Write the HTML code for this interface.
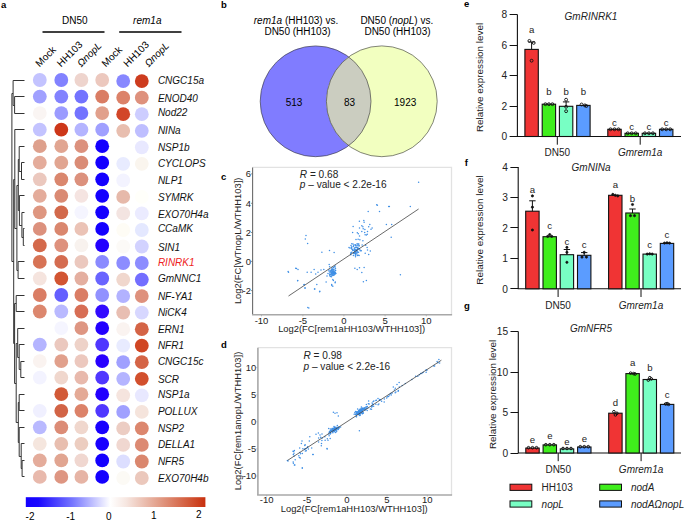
<!DOCTYPE html>
<html><head><meta charset="utf-8"><style>
html,body{margin:0;padding:0;background:#fff;}
svg{display:block;font-family:"Liberation Sans", sans-serif;}
</style></head><body>
<svg width="685" height="521" viewBox="0 0 685 521">
<rect width="685" height="521" fill="#fff"/>
<text x="1" y="8" font-size="9.5" font-weight="bold">a</text>
<text x="74.9" y="24" font-size="10" text-anchor="middle">DN50</text>
<text x="147.3" y="24" font-size="10" text-anchor="middle" font-style="italic">rem1a</text>
<line x1="42.5" y1="32" x2="104.5" y2="32" stroke="#000" stroke-width="1.5"/>
<line x1="119.2" y1="32" x2="181.5" y2="32" stroke="#000" stroke-width="1.5"/>
<text x="39.6" y="67.4" font-size="10" transform="rotate(-45 39.6 67.4)">Mock</text>
<text x="61.1" y="67.4" font-size="10" transform="rotate(-45 61.1 67.4)">HH103</text>
<text x="81.2" y="67.4" font-size="10" font-style="italic" transform="rotate(-45 81.2 67.4)">ΩnopL</text>
<text x="105.8" y="67.4" font-size="10" transform="rotate(-45 105.8 67.4)">Mock</text>
<text x="127.6" y="67.4" font-size="10" transform="rotate(-45 127.6 67.4)">HH103</text>
<text x="148.7" y="67.4" font-size="10" font-style="italic" transform="rotate(-45 148.7 67.4)">ΩnopL</text>
<circle cx="39.8" cy="80.0" r="6.9" fill="#C3C3FF"/>
<circle cx="61.3" cy="80.0" r="6.9" fill="#8282FF"/>
<circle cx="81.4" cy="80.0" r="6.9" fill="#EED4CD"/>
<circle cx="102.2" cy="80.0" r="6.9" fill="#ECC8BE"/>
<circle cx="123.2" cy="81.1" r="6.9" fill="#8787FF"/>
<circle cx="141.8" cy="81.1" r="6.9" fill="#CD3C1E"/>
<text x="157.9" y="84.0" font-size="10" font-style="italic" fill="#111">CNGC15a</text>
<circle cx="39.8" cy="96.6" r="6.9" fill="#A0A0FF"/>
<circle cx="61.3" cy="96.6" r="6.9" fill="#8282FF"/>
<circle cx="81.4" cy="96.6" r="6.9" fill="#7373FF"/>
<circle cx="102.2" cy="96.6" r="6.9" fill="#DA7D64"/>
<circle cx="123.2" cy="97.7" r="6.9" fill="#DC8269"/>
<circle cx="141.8" cy="97.7" r="6.9" fill="#DE917D"/>
<text x="157.9" y="101.6" font-size="10" font-style="italic" fill="#111">ENOD40</text>
<circle cx="39.8" cy="113.1" r="6.9" fill="#FAF5F3"/>
<circle cx="61.3" cy="113.1" r="6.9" fill="#9B9BFF"/>
<circle cx="81.4" cy="113.1" r="6.9" fill="#7373FF"/>
<circle cx="102.2" cy="113.1" r="6.9" fill="#E1A08C"/>
<circle cx="123.2" cy="114.2" r="6.9" fill="#D24628"/>
<circle cx="141.8" cy="114.2" r="6.9" fill="#CDCDFF"/>
<text x="157.9" y="116.4" font-size="10" font-style="italic" fill="#111">Nod22</text>
<circle cx="39.8" cy="129.7" r="6.9" fill="#C3C3FF"/>
<circle cx="61.3" cy="129.7" r="6.9" fill="#CD3719"/>
<circle cx="81.4" cy="129.7" r="6.9" fill="#B4B4FF"/>
<circle cx="102.2" cy="129.7" r="6.9" fill="#A0A0FF"/>
<circle cx="123.2" cy="130.8" r="6.9" fill="#E8BEAF"/>
<circle cx="141.8" cy="130.8" r="6.9" fill="#BEBEFF"/>
<text x="157.9" y="133.5" font-size="10" font-style="italic" fill="#111">NINa</text>
<circle cx="39.8" cy="146.2" r="6.9" fill="#DEA08C"/>
<circle cx="61.3" cy="146.2" r="6.9" fill="#E1A591"/>
<circle cx="81.4" cy="146.2" r="6.9" fill="#DC917D"/>
<circle cx="102.2" cy="146.2" r="6.9" fill="#1400FF"/>
<circle cx="141.8" cy="147.3" r="6.9" fill="#E8E8FF"/>
<text x="157.9" y="150.8" font-size="10" font-style="italic" fill="#111">NSP1b</text>
<circle cx="39.8" cy="162.7" r="6.9" fill="#E4AC9B"/>
<circle cx="61.3" cy="162.7" r="6.9" fill="#E1A591"/>
<circle cx="81.4" cy="162.7" r="6.9" fill="#DA8C76"/>
<circle cx="102.2" cy="162.7" r="6.9" fill="#1400FF"/>
<circle cx="123.2" cy="163.8" r="6.9" fill="#E8EBFF"/>
<circle cx="141.8" cy="163.8" r="6.9" fill="#FAF5EE"/>
<text x="157.9" y="167.1" font-size="10" font-style="italic" fill="#111">CYCLOPS</text>
<circle cx="39.8" cy="179.3" r="6.9" fill="#EBC8BE"/>
<circle cx="61.3" cy="179.3" r="6.9" fill="#DA876E"/>
<circle cx="81.4" cy="179.3" r="6.9" fill="#DC917D"/>
<circle cx="102.2" cy="179.3" r="6.9" fill="#1400FF"/>
<circle cx="123.2" cy="180.4" r="6.9" fill="#F3F3FF"/>
<text x="157.9" y="183.9" font-size="10" font-style="italic" fill="#111">NLP1</text>
<circle cx="39.8" cy="195.8" r="6.9" fill="#E4AC9B"/>
<circle cx="61.3" cy="195.8" r="6.9" fill="#DA8A73"/>
<circle cx="81.4" cy="195.8" r="6.9" fill="#F5E4E1"/>
<circle cx="102.2" cy="195.8" r="6.9" fill="#1400FF"/>
<circle cx="123.2" cy="196.9" r="6.9" fill="#E6B9AA"/>
<circle cx="141.8" cy="196.9" r="6.9" fill="#FFFFFA"/>
<text x="157.9" y="200.7" font-size="10" font-style="italic" fill="#111">SYMRK</text>
<circle cx="39.8" cy="212.3" r="6.9" fill="#DE9680"/>
<circle cx="61.3" cy="212.3" r="6.9" fill="#D2694B"/>
<circle cx="81.4" cy="212.3" r="6.9" fill="#F5F5FF"/>
<circle cx="102.2" cy="212.3" r="6.9" fill="#1400FF"/>
<circle cx="123.2" cy="213.4" r="6.9" fill="#F3E4E1"/>
<circle cx="141.8" cy="213.4" r="6.9" fill="#EBEBFF"/>
<text x="157.9" y="217.5" font-size="10" font-style="italic" fill="#111">EXO70H4a</text>
<circle cx="39.8" cy="228.9" r="6.9" fill="#DC917D"/>
<circle cx="61.3" cy="228.9" r="6.9" fill="#DA876E"/>
<circle cx="81.4" cy="228.9" r="6.9" fill="#EBC3B6"/>
<circle cx="102.2" cy="228.9" r="6.9" fill="#1400FF"/>
<circle cx="123.2" cy="230.0" r="6.9" fill="#FEFCF5"/>
<circle cx="141.8" cy="230.0" r="6.9" fill="#E4E8FF"/>
<text x="157.9" y="232.0" font-size="10" font-style="italic" fill="#111">CCaMK</text>
<circle cx="39.8" cy="245.4" r="6.9" fill="#D4694B"/>
<circle cx="61.3" cy="245.4" r="6.9" fill="#DE917D"/>
<circle cx="81.4" cy="245.4" r="6.9" fill="#F8F2EE"/>
<circle cx="102.2" cy="245.4" r="6.9" fill="#2300FF"/>
<circle cx="123.2" cy="246.5" r="6.9" fill="#FCFAF7"/>
<circle cx="141.8" cy="246.5" r="6.9" fill="#D2D2FF"/>
<text x="157.9" y="250.7" font-size="10" font-style="italic" fill="#111">SIN1</text>
<circle cx="39.8" cy="261.9" r="6.9" fill="#D77355"/>
<circle cx="61.3" cy="261.9" r="6.9" fill="#D46C50"/>
<circle cx="81.4" cy="261.9" r="6.9" fill="#EBC8BE"/>
<circle cx="102.2" cy="261.9" r="6.9" fill="#8A8AFF"/>
<circle cx="123.2" cy="263.0" r="6.9" fill="#8C8CFF"/>
<circle cx="141.8" cy="263.0" r="6.9" fill="#8C8CFF"/>
<text x="157.9" y="265.8" font-size="10" font-style="italic" fill="#EE2222">RINRK1</text>
<circle cx="39.8" cy="278.5" r="6.9" fill="#F5E4DE"/>
<circle cx="61.3" cy="278.5" r="6.9" fill="#D25532"/>
<circle cx="81.4" cy="278.5" r="6.9" fill="#E4AFA0"/>
<circle cx="102.2" cy="278.5" r="6.9" fill="#6964FF"/>
<circle cx="123.2" cy="279.6" r="6.9" fill="#F0D7CD"/>
<circle cx="141.8" cy="279.6" r="6.9" fill="#736EFF"/>
<text x="157.9" y="282.0" font-size="10" font-style="italic" fill="#111">GmNNC1</text>
<circle cx="39.8" cy="295.0" r="6.9" fill="#DA7D64"/>
<circle cx="61.3" cy="295.0" r="6.9" fill="#645FFF"/>
<circle cx="81.4" cy="295.0" r="6.9" fill="#DA7D64"/>
<circle cx="102.2" cy="295.0" r="6.9" fill="#9191FF"/>
<circle cx="123.2" cy="296.1" r="6.9" fill="#B2B2FF"/>
<circle cx="141.8" cy="296.1" r="6.9" fill="#DE917D"/>
<text x="157.9" y="300.0" font-size="10" font-style="italic" fill="#111">NF-YA1</text>
<circle cx="39.8" cy="311.5" r="6.9" fill="#DC876E"/>
<circle cx="61.3" cy="311.5" r="6.9" fill="#B9B9FF"/>
<circle cx="81.4" cy="311.5" r="6.9" fill="#D76E55"/>
<circle cx="102.2" cy="311.5" r="6.9" fill="#320AFF"/>
<circle cx="123.2" cy="312.6" r="6.9" fill="#E8BEB2"/>
<circle cx="141.8" cy="312.6" r="6.9" fill="#D7D7FF"/>
<text x="157.9" y="315.6" font-size="10" font-style="italic" fill="#111">NiCK4</text>
<circle cx="61.3" cy="328.1" r="6.9" fill="#F5F5FF"/>
<circle cx="81.4" cy="328.1" r="6.9" fill="#DE9682"/>
<circle cx="102.2" cy="328.1" r="6.9" fill="#2300FF"/>
<circle cx="123.2" cy="329.2" r="6.9" fill="#FAF3F0"/>
<circle cx="141.8" cy="329.2" r="6.9" fill="#D46446"/>
<text x="157.9" y="333.0" font-size="10" font-style="italic" fill="#111">ERN1</text>
<circle cx="39.8" cy="344.6" r="6.9" fill="#B4B4FF"/>
<circle cx="61.3" cy="344.6" r="6.9" fill="#EBC8BE"/>
<circle cx="81.4" cy="344.6" r="6.9" fill="#EED2C8"/>
<circle cx="102.2" cy="344.6" r="6.9" fill="#5037FF"/>
<circle cx="123.2" cy="345.7" r="6.9" fill="#E8EBFF"/>
<circle cx="141.8" cy="345.7" r="6.9" fill="#D04623"/>
<text x="157.9" y="349.3" font-size="10" font-style="italic" fill="#111">NFR1</text>
<circle cx="39.8" cy="361.1" r="6.9" fill="#FAF3F0"/>
<circle cx="61.3" cy="361.1" r="6.9" fill="#E1A08C"/>
<circle cx="81.4" cy="361.1" r="6.9" fill="#ECC8BE"/>
<circle cx="102.2" cy="361.1" r="6.9" fill="#2800FF"/>
<circle cx="123.2" cy="362.2" r="6.9" fill="#A0A0FF"/>
<circle cx="141.8" cy="362.2" r="6.9" fill="#D46446"/>
<text x="157.9" y="364.6" font-size="10" font-style="italic" fill="#111">CNGC15c</text>
<circle cx="39.8" cy="377.7" r="6.9" fill="#F3F3FF"/>
<circle cx="61.3" cy="377.7" r="6.9" fill="#F0D7CD"/>
<circle cx="81.4" cy="377.7" r="6.9" fill="#E8B9AC"/>
<circle cx="102.2" cy="377.7" r="6.9" fill="#5037FF"/>
<circle cx="123.2" cy="378.8" r="6.9" fill="#B4B4FF"/>
<circle cx="141.8" cy="378.8" r="6.9" fill="#D2502D"/>
<text x="157.9" y="382.5" font-size="10" font-style="italic" fill="#111">SCR</text>
<circle cx="61.3" cy="394.2" r="6.9" fill="#D25A37"/>
<circle cx="81.4" cy="394.2" r="6.9" fill="#E4AA96"/>
<circle cx="102.2" cy="394.2" r="6.9" fill="#2300FF"/>
<circle cx="123.2" cy="395.3" r="6.9" fill="#F5E4DE"/>
<circle cx="141.8" cy="395.3" r="6.9" fill="#E8E8FF"/>
<text x="157.9" y="398.0" font-size="10" font-style="italic" fill="#111">NSP1a</text>
<circle cx="39.8" cy="410.8" r="6.9" fill="#F0F0FF"/>
<circle cx="61.3" cy="410.8" r="6.9" fill="#D26446"/>
<circle cx="81.4" cy="410.8" r="6.9" fill="#DC8269"/>
<circle cx="102.2" cy="410.8" r="6.9" fill="#5037FF"/>
<circle cx="123.2" cy="411.9" r="6.9" fill="#A0A0FF"/>
<circle cx="141.8" cy="411.9" r="6.9" fill="#F5E4DC"/>
<text x="157.9" y="415.1" font-size="10" font-style="italic" fill="#111">POLLUX</text>
<circle cx="39.8" cy="427.3" r="6.9" fill="#B9B9FF"/>
<circle cx="61.3" cy="427.3" r="6.9" fill="#DC8C76"/>
<circle cx="81.4" cy="427.3" r="6.9" fill="#F0D7CD"/>
<circle cx="102.2" cy="427.3" r="6.9" fill="#1900FF"/>
<circle cx="123.2" cy="428.4" r="6.9" fill="#ECCDC3"/>
<circle cx="141.8" cy="428.4" r="6.9" fill="#DC876E"/>
<text x="157.9" y="431.6" font-size="10" font-style="italic" fill="#111">NSP2</text>
<circle cx="39.8" cy="443.8" r="6.9" fill="#F5E6DE"/>
<circle cx="61.3" cy="443.8" r="6.9" fill="#E8BEAF"/>
<circle cx="81.4" cy="443.8" r="6.9" fill="#ECCDC0"/>
<circle cx="102.2" cy="443.8" r="6.9" fill="#1900FF"/>
<circle cx="123.2" cy="444.9" r="6.9" fill="#F0D7D0"/>
<circle cx="141.8" cy="444.9" r="6.9" fill="#DC8A73"/>
<text x="157.9" y="448.3" font-size="10" font-style="italic" fill="#111">DELLA1</text>
<circle cx="39.8" cy="460.4" r="6.9" fill="#E4AC9B"/>
<circle cx="61.3" cy="460.4" r="6.9" fill="#E1A591"/>
<circle cx="81.4" cy="460.4" r="6.9" fill="#F0D7D0"/>
<circle cx="102.2" cy="460.4" r="6.9" fill="#1400FF"/>
<circle cx="123.2" cy="461.5" r="6.9" fill="#DCDEFF"/>
<circle cx="141.8" cy="461.5" r="6.9" fill="#DA876E"/>
<text x="157.9" y="464.7" font-size="10" font-style="italic" fill="#111">NFR5</text>
<circle cx="39.8" cy="476.9" r="6.9" fill="#E8B9AC"/>
<circle cx="61.3" cy="476.9" r="6.9" fill="#DE9682"/>
<circle cx="81.4" cy="476.9" r="6.9" fill="#E6B4A5"/>
<circle cx="102.2" cy="476.9" r="6.9" fill="#1400FF"/>
<circle cx="123.2" cy="478.0" r="6.9" fill="#FCFAF5"/>
<circle cx="141.8" cy="478.0" r="6.9" fill="#EBC8BC"/>
<text x="157.9" y="481.8" font-size="10" font-style="italic" fill="#111">EXO70H4b</text>
<path d="M14.6 96.5H24.5M14.6 113.5H24.5M14.6 96.5V113.5M13.1 80.5H24.5M13.1 105.5H14.6M13.1 80.5V105.5M21.5 162.5H24.5M21.5 179.5H24.5M21.5 162.5V179.5M19.2 146.5H24.5M19.2 171.5H21.5M19.2 146.5V171.5M23.3 228.5H24.5M23.3 245.5H24.5M23.3 228.5V245.5M21.9 212.5H24.5M21.9 237.5H23.3M21.9 212.5V237.5M19.4 195.5H24.5M19.4 225.5H21.9M19.4 195.5V225.5M18.3 159.5H19.2M18.3 210.5H19.4M18.3 159.5V210.5M18.1 261.5H24.5M18.1 278.5H24.5M18.1 261.5V278.5M16.9 185.5H18.3M16.9 270.5H18.1M16.9 185.5V270.5M14.8 129.5H24.5M14.8 228.5H16.9M14.8 129.5V228.5M16.2 295.5H24.5M16.2 311.5H24.5M16.2 295.5V311.5M20.8 361.5H24.5M20.8 377.5H24.5M20.8 361.5V377.5M19.2 344.5H24.5M19.2 369.5H20.8M19.2 344.5V369.5M17.7 328.5H24.5M17.7 357.5H19.2M17.7 328.5V357.5M19.2 394.5H24.5M19.2 410.5H24.5M19.2 394.5V410.5M22.1 460.5H24.5M22.1 476.5H24.5M22.1 460.5V476.5M21.2 443.5H24.5M21.2 468.5H22.1M21.2 443.5V468.5M19.2 427.5H24.5M19.2 456.5H21.2M19.2 427.5V456.5M18.3 402.5H19.2M18.3 442.5H19.2M18.3 402.5V442.5M16.2 343.5H17.7M16.2 422.5H18.3M16.2 343.5V422.5M14.6 303.5H16.2M14.6 383.5H16.2M14.6 303.5V383.5M13.7 179.5H14.8M13.7 343.5H14.6M13.7 179.5V343.5M11.9 93.5H13.1M11.9 261.5H13.7M11.9 93.5V261.5" fill="none" stroke="#333" stroke-width="1"/>
<defs><linearGradient id="cb" x1="0" x2="1" y1="0" y2="0"><stop offset="0" stop-color="#1400FF"/><stop offset="0.07" stop-color="#1A08FF"/><stop offset="0.26" stop-color="#7676FF"/><stop offset="0.47" stop-color="#FFFFFF"/><stop offset="0.56" stop-color="#F6E6E0"/><stop offset="0.75" stop-color="#E19A84"/><stop offset="0.9" stop-color="#D35C3C"/><stop offset="1" stop-color="#C8300E"/></linearGradient></defs>
<rect x="25.8" y="497.2" width="179.6" height="9.8" fill="url(#cb)"/>
<text x="30" y="519.5" font-size="10" text-anchor="middle">-2</text>
<text x="70.7" y="519.5" font-size="10" text-anchor="middle">-1</text>
<text x="108.8" y="519.5" font-size="10" text-anchor="middle">0</text>
<text x="153.8" y="518.8" font-size="10" text-anchor="middle">1</text>
<text x="198.8" y="517.6" font-size="10" text-anchor="middle">2</text>
<text x="221" y="8.2" font-size="9.5" font-weight="bold">b</text>
<text x="296" y="23.5" font-size="10" text-anchor="middle"><tspan font-style="italic">rem1a</tspan> (HH103) vs.</text>
<text x="297.5" y="35.3" font-size="10" text-anchor="middle">DN50 (HH103)</text>
<text x="396.8" y="23.5" font-size="10" text-anchor="middle">DN50 (<tspan font-style="italic">nopL</tspan>) vs.</text>
<text x="397.5" y="35.3" font-size="10" text-anchor="middle">DN50 (HH103)</text>
<defs><clipPath id="vl"><circle cx="315.6" cy="101.3" r="55.4"/></clipPath></defs>
<circle cx="315.6" cy="101.3" r="55.4" fill="#807CFF"/>
<circle cx="381.8" cy="101.3" r="55.4" fill="#F2FFC0"/>
<circle cx="381.8" cy="101.3" r="55.4" fill="#CBCDC0" clip-path="url(#vl)"/>
<circle cx="315.6" cy="101.3" r="55.4" fill="none" stroke="#333" stroke-width="0.6"/>
<circle cx="381.8" cy="101.3" r="55.4" fill="none" stroke="#333" stroke-width="0.6"/>
<text x="294.1" y="105.6" font-size="10" text-anchor="middle">513</text>
<text x="349.6" y="105.6" font-size="10" text-anchor="middle">83</text>
<text x="405.2" y="105.6" font-size="10" text-anchor="middle">1923</text>
<text x="221" y="180" font-size="9.5" font-weight="bold">c</text>
<path d="M252.6 167.4H451.5V314.8" fill="none" stroke="#E2E2E2" stroke-width="1.3"/>
<g fill="#3F8FE5"><circle cx="306.0" cy="235.6" r="0.75"/><circle cx="305.3" cy="239.1" r="0.75"/><circle cx="307.6" cy="243.4" r="0.75"/><circle cx="321.9" cy="252.2" r="0.75"/><circle cx="329.5" cy="250.6" r="0.75"/><circle cx="334.1" cy="252.4" r="0.75"/><circle cx="288.5" cy="272.2" r="0.75"/><circle cx="295.7" cy="268.3" r="0.75"/><circle cx="298.0" cy="269.5" r="0.75"/><circle cx="307.2" cy="272.2" r="0.75"/><circle cx="311.1" cy="272.2" r="0.75"/><circle cx="314.1" cy="269.5" r="0.75"/><circle cx="315.7" cy="274.1" r="0.75"/><circle cx="318.0" cy="272.2" r="0.75"/><circle cx="321.0" cy="269.9" r="0.75"/><circle cx="323.8" cy="269.5" r="0.75"/><circle cx="297.7" cy="280.5" r="0.75"/><circle cx="304.2" cy="284.4" r="0.75"/><circle cx="304.9" cy="287.9" r="0.75"/><circle cx="314.5" cy="289.0" r="0.75"/><circle cx="319.8" cy="291.3" r="0.75"/><circle cx="316.8" cy="284.4" r="0.75"/><circle cx="326.1" cy="282.1" r="0.75"/><circle cx="331.8" cy="285.6" r="0.75"/><circle cx="335.3" cy="282.1" r="0.75"/><circle cx="308.8" cy="307.9" r="0.75"/><circle cx="354.9" cy="268.3" r="0.75"/><circle cx="357.2" cy="269.5" r="0.75"/><circle cx="359.5" cy="267.8" r="0.75"/><circle cx="361.8" cy="272.5" r="0.75"/><circle cx="364.1" cy="267.4" r="0.75"/><circle cx="363.4" cy="281.7" r="0.75"/><circle cx="366.4" cy="280.5" r="0.75"/><circle cx="356.0" cy="239.5" r="0.75"/><circle cx="359.5" cy="236.1" r="0.75"/><circle cx="361.8" cy="231.5" r="0.75"/><circle cx="362.9" cy="226.8" r="0.75"/><circle cx="364.1" cy="222.2" r="0.75"/><circle cx="367.5" cy="231.5" r="0.75"/><circle cx="368.7" cy="226.8" r="0.75"/><circle cx="371.0" cy="229.2" r="0.75"/><circle cx="369.8" cy="224.5" r="0.75"/><circle cx="372.1" cy="228.0" r="0.75"/><circle cx="366.4" cy="234.9" r="0.75"/><circle cx="359.5" cy="228.0" r="0.75"/><circle cx="361.8" cy="225.7" r="0.75"/><circle cx="358.3" cy="233.8" r="0.75"/><circle cx="368.2" cy="211.4" r="0.75"/><circle cx="377.4" cy="205.2" r="0.75"/><circle cx="379.5" cy="211.4" r="0.75"/><circle cx="389.4" cy="206.6" r="0.75"/><circle cx="386.4" cy="224.5" r="0.75"/><circle cx="391.7" cy="224.5" r="0.75"/><circle cx="391.2" cy="237.2" r="0.75"/><circle cx="362.9" cy="240.7" r="0.75"/><circle cx="365.7" cy="245.3" r="0.75"/><circle cx="367.5" cy="249.9" r="0.75"/><circle cx="370.3" cy="251.0" r="0.75"/><circle cx="365.2" cy="253.3" r="0.75"/><circle cx="368.7" cy="254.5" r="0.75"/><circle cx="367.1" cy="247.6" r="0.75"/><circle cx="353.7" cy="245.3" r="0.75"/><circle cx="353.2" cy="250.3" r="0.75"/><circle cx="351.9" cy="252.2" r="0.75"/><circle cx="355.5" cy="256.8" r="0.75"/><circle cx="358.8" cy="244.1" r="0.75"/><circle cx="418.6" cy="182.2" r="0.75"/><circle cx="400.4" cy="274.7" r="0.75"/><circle cx="288.1" cy="271.4" r="0.75"/><circle cx="296.5" cy="268.5" r="0.75"/><circle cx="307.8" cy="307.5" r="0.75"/><circle cx="304.0" cy="284.8" r="0.75"/><circle cx="305.2" cy="288.0" r="0.75"/><circle cx="314.8" cy="289.0" r="0.75"/><circle cx="319.6" cy="291.7" r="0.75"/><circle cx="297.6" cy="280.8" r="0.75"/><circle cx="376.7" cy="204.7" r="0.75"/><circle cx="388.7" cy="206.5" r="0.75"/><circle cx="410.3" cy="206.4" r="0.75"/><circle cx="332.3" cy="273.3" r="0.75"/><circle cx="332.4" cy="270.9" r="0.75"/><circle cx="331.0" cy="271.2" r="0.75"/><circle cx="334.9" cy="273.0" r="0.75"/><circle cx="334.8" cy="272.5" r="0.75"/><circle cx="333.6" cy="272.3" r="0.75"/><circle cx="329.6" cy="274.3" r="0.75"/><circle cx="333.8" cy="273.2" r="0.75"/><circle cx="329.6" cy="266.7" r="0.75"/><circle cx="331.1" cy="270.4" r="0.75"/><circle cx="333.4" cy="271.7" r="0.75"/><circle cx="333.8" cy="269.9" r="0.75"/><circle cx="333.4" cy="272.9" r="0.75"/><circle cx="331.5" cy="276.8" r="0.75"/><circle cx="333.9" cy="275.3" r="0.75"/><circle cx="331.6" cy="269.7" r="0.75"/><circle cx="332.1" cy="271.5" r="0.75"/><circle cx="334.0" cy="272.5" r="0.75"/><circle cx="332.0" cy="269.0" r="0.75"/><circle cx="331.8" cy="275.3" r="0.75"/><circle cx="331.3" cy="272.5" r="0.75"/><circle cx="333.6" cy="267.5" r="0.75"/><circle cx="332.9" cy="275.6" r="0.75"/><circle cx="329.0" cy="270.9" r="0.75"/><circle cx="332.6" cy="269.4" r="0.75"/><circle cx="333.7" cy="271.6" r="0.75"/><circle cx="330.0" cy="274.2" r="0.75"/><circle cx="334.1" cy="274.5" r="0.75"/><circle cx="335.5" cy="272.9" r="0.75"/><circle cx="333.0" cy="268.0" r="0.75"/><circle cx="334.0" cy="270.0" r="0.75"/><circle cx="331.9" cy="268.1" r="0.75"/><circle cx="331.0" cy="270.3" r="0.75"/><circle cx="335.2" cy="265.9" r="0.75"/><circle cx="330.0" cy="272.5" r="0.75"/><circle cx="335.5" cy="273.5" r="0.75"/><circle cx="329.2" cy="264.5" r="0.75"/><circle cx="333.5" cy="269.7" r="0.75"/><circle cx="330.7" cy="274.6" r="0.75"/><circle cx="334.9" cy="272.3" r="0.75"/><circle cx="333.3" cy="273.1" r="0.75"/><circle cx="335.8" cy="273.6" r="0.75"/><circle cx="333.8" cy="273.4" r="0.75"/><circle cx="329.8" cy="275.5" r="0.75"/><circle cx="334.6" cy="273.3" r="0.75"/><circle cx="329.0" cy="270.0" r="0.75"/><circle cx="334.4" cy="266.5" r="0.75"/><circle cx="332.5" cy="274.8" r="0.75"/><circle cx="330.3" cy="276.5" r="0.75"/><circle cx="333.8" cy="271.4" r="0.75"/><circle cx="333.4" cy="273.7" r="0.75"/><circle cx="333.0" cy="275.1" r="0.75"/><circle cx="331.5" cy="270.6" r="0.75"/><circle cx="334.8" cy="271.9" r="0.75"/><circle cx="331.1" cy="274.5" r="0.75"/><circle cx="335.6" cy="270.5" r="0.75"/><circle cx="330.2" cy="271.4" r="0.75"/><circle cx="332.5" cy="270.9" r="0.75"/><circle cx="335.5" cy="268.8" r="0.75"/><circle cx="335.2" cy="268.1" r="0.75"/><circle cx="331.3" cy="273.6" r="0.75"/><circle cx="334.9" cy="274.3" r="0.75"/><circle cx="333.5" cy="272.2" r="0.75"/><circle cx="333.1" cy="273.5" r="0.75"/><circle cx="332.5" cy="272.6" r="0.75"/><circle cx="332.8" cy="279.4" r="0.75"/><circle cx="333.4" cy="280.5" r="0.75"/><circle cx="335.1" cy="282.8" r="0.75"/><circle cx="331.7" cy="284.6" r="0.75"/><circle cx="332.8" cy="286.3" r="0.75"/><circle cx="327.0" cy="276.0" r="0.75"/><circle cx="328.0" cy="273.5" r="0.75"/><circle cx="356.9" cy="249.5" r="0.75"/><circle cx="357.3" cy="251.7" r="0.75"/><circle cx="360.3" cy="250.7" r="0.75"/><circle cx="354.5" cy="248.1" r="0.75"/><circle cx="355.5" cy="253.0" r="0.75"/><circle cx="354.7" cy="251.0" r="0.75"/><circle cx="359.9" cy="239.8" r="0.75"/><circle cx="352.8" cy="250.4" r="0.75"/><circle cx="356.5" cy="250.4" r="0.75"/><circle cx="354.5" cy="252.0" r="0.75"/><circle cx="356.2" cy="247.5" r="0.75"/><circle cx="361.3" cy="250.8" r="0.75"/><circle cx="354.2" cy="249.1" r="0.75"/><circle cx="355.0" cy="249.3" r="0.75"/><circle cx="349.0" cy="247.6" r="0.75"/><circle cx="357.9" cy="245.1" r="0.75"/><circle cx="355.3" cy="253.1" r="0.75"/><circle cx="357.6" cy="255.2" r="0.75"/><circle cx="351.4" cy="248.2" r="0.75"/><circle cx="354.7" cy="251.9" r="0.75"/><circle cx="358.1" cy="239.3" r="0.75"/><circle cx="358.1" cy="244.0" r="0.75"/><circle cx="357.1" cy="243.8" r="0.75"/><circle cx="355.9" cy="254.0" r="0.75"/><circle cx="355.1" cy="250.2" r="0.75"/><circle cx="357.4" cy="250.0" r="0.75"/><circle cx="355.3" cy="255.3" r="0.75"/><circle cx="358.0" cy="248.4" r="0.75"/><circle cx="362.1" cy="245.1" r="0.75"/><circle cx="357.7" cy="248.5" r="0.75"/><circle cx="355.8" cy="252.2" r="0.75"/><circle cx="356.0" cy="251.9" r="0.75"/><circle cx="351.8" cy="243.8" r="0.75"/><circle cx="357.0" cy="245.8" r="0.75"/><circle cx="353.0" cy="243.9" r="0.75"/><circle cx="358.5" cy="252.3" r="0.75"/><circle cx="359.0" cy="245.9" r="0.75"/><circle cx="355.5" cy="245.2" r="0.75"/><circle cx="357.3" cy="255.5" r="0.75"/><circle cx="353.4" cy="255.4" r="0.75"/><circle cx="357.9" cy="248.8" r="0.75"/><circle cx="350.8" cy="254.8" r="0.75"/><circle cx="355.3" cy="247.2" r="0.75"/><circle cx="356.5" cy="251.1" r="0.75"/><circle cx="359.1" cy="245.6" r="0.75"/><circle cx="358.2" cy="255.2" r="0.75"/><circle cx="359.0" cy="248.8" r="0.75"/><circle cx="353.7" cy="253.4" r="0.75"/><circle cx="355.8" cy="250.0" r="0.75"/><circle cx="358.9" cy="248.5" r="0.75"/><circle cx="350.0" cy="248.0" r="0.75"/><circle cx="351.1" cy="252.6" r="0.75"/><circle cx="356.3" cy="247.2" r="0.75"/><circle cx="355.5" cy="252.7" r="0.75"/><circle cx="355.7" cy="254.5" r="0.75"/><circle cx="355.4" cy="253.5" r="0.75"/><circle cx="359.1" cy="255.6" r="0.75"/><circle cx="353.9" cy="252.8" r="0.75"/><circle cx="351.0" cy="245.4" r="0.75"/><circle cx="350.8" cy="253.6" r="0.75"/><circle cx="352.5" cy="249.5" r="0.75"/><circle cx="355.0" cy="249.4" r="0.75"/><circle cx="354.1" cy="250.4" r="0.75"/><circle cx="359.8" cy="249.7" r="0.75"/><circle cx="356.8" cy="253.3" r="0.75"/><circle cx="355.0" cy="244.7" r="0.75"/><circle cx="354.2" cy="253.6" r="0.75"/><circle cx="351.5" cy="247.2" r="0.75"/><circle cx="357.9" cy="252.5" r="0.75"/><circle cx="355.5" cy="252.6" r="0.75"/><circle cx="355.9" cy="245.0" r="0.75"/><circle cx="351.7" cy="247.1" r="0.75"/><circle cx="357.7" cy="247.4" r="0.75"/><circle cx="353.3" cy="246.6" r="0.75"/><circle cx="351.8" cy="249.1" r="0.75"/><circle cx="357.3" cy="232.8" r="0.75"/><circle cx="352.6" cy="232.6" r="0.75"/><circle cx="359.4" cy="221.3" r="0.75"/><circle cx="364.9" cy="229.6" r="0.75"/><circle cx="353.1" cy="226.6" r="0.75"/><circle cx="363.2" cy="228.7" r="0.75"/><circle cx="365.1" cy="234.7" r="0.75"/><circle cx="364.7" cy="232.6" r="0.75"/><circle cx="367.3" cy="234.3" r="0.75"/><circle cx="363.8" cy="220.6" r="0.75"/></g>
<line x1="288.5" y1="296.0" x2="418.6" y2="209.0" stroke="#444" stroke-width="0.8"/>
<path d="M252.6 167.4V314.8" fill="none" stroke="#6A6A6A" stroke-width="1.1"/>
<path d="M252.04999999999998 314.8H452.1" fill="none" stroke="#A8A8A8" stroke-width="1.5"/>
<line x1="251.1" y1="173.9" x2="252.6" y2="173.9" stroke="#6A6A6A" stroke-width="0.8"/>
<text x="250.9" y="177.3" font-size="9.4" text-anchor="end" fill="#222">6</text>
<line x1="251.1" y1="203.3" x2="252.6" y2="203.3" stroke="#6A6A6A" stroke-width="0.8"/>
<text x="250.9" y="206.7" font-size="9.4" text-anchor="end" fill="#222">4</text>
<line x1="251.1" y1="232.5" x2="252.6" y2="232.5" stroke="#6A6A6A" stroke-width="0.8"/>
<text x="250.9" y="235.9" font-size="9.4" text-anchor="end" fill="#222">2</text>
<line x1="251.1" y1="261.4" x2="252.6" y2="261.4" stroke="#6A6A6A" stroke-width="0.8"/>
<text x="250.9" y="264.8" font-size="9.4" text-anchor="end" fill="#222">0</text>
<line x1="251.1" y1="290.6" x2="252.6" y2="290.6" stroke="#6A6A6A" stroke-width="0.8"/>
<text x="250.9" y="294.0" font-size="9.4" text-anchor="end" fill="#222">-2</text>
<line x1="261.5" y1="314.8" x2="261.5" y2="316.3" stroke="#A8A8A8" stroke-width="0.8"/>
<text x="261.5" y="323.6" font-size="9.5" text-anchor="middle" fill="#222">-10</text>
<line x1="302.9" y1="314.8" x2="302.9" y2="316.3" stroke="#A8A8A8" stroke-width="0.8"/>
<text x="302.9" y="323.6" font-size="9.5" text-anchor="middle" fill="#222">-5</text>
<line x1="343.9" y1="314.8" x2="343.9" y2="316.3" stroke="#A8A8A8" stroke-width="0.8"/>
<text x="343.9" y="323.6" font-size="9.5" text-anchor="middle" fill="#222">0</text>
<line x1="385.1" y1="314.8" x2="385.1" y2="316.3" stroke="#A8A8A8" stroke-width="0.8"/>
<text x="385.1" y="323.6" font-size="9.5" text-anchor="middle" fill="#222">5</text>
<line x1="426.3" y1="314.8" x2="426.3" y2="316.3" stroke="#A8A8A8" stroke-width="0.8"/>
<text x="426.3" y="323.6" font-size="9.5" text-anchor="middle" fill="#222">10</text>
<text x="351.6" y="332.3" font-size="9.4" text-anchor="middle" fill="#222">Log2(FC[rem1aHH103/WTHH103])</text>
<text x="241.0" y="240.8" font-size="9.4" text-anchor="middle" fill="#222" transform="rotate(-90 241.0 240.8)">Log2(FC[WTnopL/WTHH103])</text>
<text x="299.8" y="177.5" font-size="10.1" fill="#222"><tspan font-style="italic">R</tspan> = 0.68</text>
<text x="299.8" y="188.1" font-size="10.1" fill="#222"><tspan font-style="italic">p</tspan> – value &lt; 2.2e-16</text>
<text x="221" y="348.2" font-size="9.5" font-weight="bold">d</text>
<path d="M257.9 347.7H451.5V494.9" fill="none" stroke="#E2E2E2" stroke-width="1.3"/>
<g fill="#3F8FE5"><circle cx="336.9" cy="429.7" r="0.75"/><circle cx="333.3" cy="429.8" r="0.75"/><circle cx="337.3" cy="425.4" r="0.75"/><circle cx="336.7" cy="431.3" r="0.75"/><circle cx="332.6" cy="431.8" r="0.75"/><circle cx="338.2" cy="427.0" r="0.75"/><circle cx="336.0" cy="429.8" r="0.75"/><circle cx="332.2" cy="431.0" r="0.75"/><circle cx="335.3" cy="430.1" r="0.75"/><circle cx="334.0" cy="429.7" r="0.75"/><circle cx="331.8" cy="430.9" r="0.75"/><circle cx="336.2" cy="428.6" r="0.75"/><circle cx="331.8" cy="430.3" r="0.75"/><circle cx="340.6" cy="427.0" r="0.75"/><circle cx="334.0" cy="426.5" r="0.75"/><circle cx="335.8" cy="429.4" r="0.75"/><circle cx="338.1" cy="427.8" r="0.75"/><circle cx="334.4" cy="430.4" r="0.75"/><circle cx="330.6" cy="433.5" r="0.75"/><circle cx="334.5" cy="428.7" r="0.75"/><circle cx="338.2" cy="429.6" r="0.75"/><circle cx="330.8" cy="431.2" r="0.75"/><circle cx="334.9" cy="429.6" r="0.75"/><circle cx="332.8" cy="429.5" r="0.75"/><circle cx="339.4" cy="427.7" r="0.75"/><circle cx="330.8" cy="430.3" r="0.75"/><circle cx="338.5" cy="428.3" r="0.75"/><circle cx="338.6" cy="427.9" r="0.75"/><circle cx="332.5" cy="431.3" r="0.75"/><circle cx="329.1" cy="432.2" r="0.75"/><circle cx="334.4" cy="430.4" r="0.75"/><circle cx="332.6" cy="430.7" r="0.75"/><circle cx="335.4" cy="429.5" r="0.75"/><circle cx="335.7" cy="429.1" r="0.75"/><circle cx="334.0" cy="431.0" r="0.75"/><circle cx="333.8" cy="429.0" r="0.75"/><circle cx="332.8" cy="430.7" r="0.75"/><circle cx="334.1" cy="430.1" r="0.75"/><circle cx="334.3" cy="430.0" r="0.75"/><circle cx="333.1" cy="428.8" r="0.75"/><circle cx="335.7" cy="430.2" r="0.75"/><circle cx="335.0" cy="429.0" r="0.75"/><circle cx="334.6" cy="428.3" r="0.75"/><circle cx="330.1" cy="432.6" r="0.75"/><circle cx="332.6" cy="431.8" r="0.75"/><circle cx="330.3" cy="429.0" r="0.75"/><circle cx="332.9" cy="432.7" r="0.75"/><circle cx="332.5" cy="429.1" r="0.75"/><circle cx="332.9" cy="431.4" r="0.75"/><circle cx="335.4" cy="429.3" r="0.75"/><circle cx="337.8" cy="428.3" r="0.75"/><circle cx="334.5" cy="430.4" r="0.75"/><circle cx="338.4" cy="428.3" r="0.75"/><circle cx="335.8" cy="427.3" r="0.75"/><circle cx="334.3" cy="430.7" r="0.75"/><circle cx="334.2" cy="431.2" r="0.75"/><circle cx="336.0" cy="429.8" r="0.75"/><circle cx="335.3" cy="432.4" r="0.75"/><circle cx="336.7" cy="427.8" r="0.75"/><circle cx="336.0" cy="432.0" r="0.75"/><circle cx="334.0" cy="431.1" r="0.75"/><circle cx="336.3" cy="428.4" r="0.75"/><circle cx="331.8" cy="431.6" r="0.75"/><circle cx="335.7" cy="430.3" r="0.75"/><circle cx="335.9" cy="428.7" r="0.75"/><circle cx="336.4" cy="429.1" r="0.75"/><circle cx="334.7" cy="429.6" r="0.75"/><circle cx="334.1" cy="430.8" r="0.75"/><circle cx="331.5" cy="430.7" r="0.75"/><circle cx="333.3" cy="428.5" r="0.75"/><circle cx="332.0" cy="428.6" r="0.75"/><circle cx="333.1" cy="431.3" r="0.75"/><circle cx="335.4" cy="428.9" r="0.75"/><circle cx="332.8" cy="428.8" r="0.75"/><circle cx="338.5" cy="427.7" r="0.75"/><circle cx="336.0" cy="427.4" r="0.75"/><circle cx="332.7" cy="428.4" r="0.75"/><circle cx="336.5" cy="429.5" r="0.75"/><circle cx="330.1" cy="432.5" r="0.75"/><circle cx="334.5" cy="427.3" r="0.75"/><circle cx="329.6" cy="431.4" r="0.75"/><circle cx="332.0" cy="429.4" r="0.75"/><circle cx="334.4" cy="430.0" r="0.75"/><circle cx="336.0" cy="429.5" r="0.75"/><circle cx="338.1" cy="428.7" r="0.75"/><circle cx="331.1" cy="431.2" r="0.75"/><circle cx="331.3" cy="430.3" r="0.75"/><circle cx="334.0" cy="429.9" r="0.75"/><circle cx="334.3" cy="427.6" r="0.75"/><circle cx="331.5" cy="431.5" r="0.75"/><circle cx="359.3" cy="411.7" r="0.75"/><circle cx="359.3" cy="411.0" r="0.75"/><circle cx="362.2" cy="410.8" r="0.75"/><circle cx="359.3" cy="411.1" r="0.75"/><circle cx="357.6" cy="409.1" r="0.75"/><circle cx="357.4" cy="413.5" r="0.75"/><circle cx="356.1" cy="414.6" r="0.75"/><circle cx="359.5" cy="410.0" r="0.75"/><circle cx="359.1" cy="411.8" r="0.75"/><circle cx="361.7" cy="411.5" r="0.75"/><circle cx="359.3" cy="410.9" r="0.75"/><circle cx="359.6" cy="411.9" r="0.75"/><circle cx="362.3" cy="410.7" r="0.75"/><circle cx="357.1" cy="411.6" r="0.75"/><circle cx="358.5" cy="411.6" r="0.75"/><circle cx="356.9" cy="413.6" r="0.75"/><circle cx="358.8" cy="412.7" r="0.75"/><circle cx="361.2" cy="410.3" r="0.75"/><circle cx="366.2" cy="407.1" r="0.75"/><circle cx="363.1" cy="409.8" r="0.75"/><circle cx="361.4" cy="407.1" r="0.75"/><circle cx="358.2" cy="413.3" r="0.75"/><circle cx="363.4" cy="413.1" r="0.75"/><circle cx="361.8" cy="412.5" r="0.75"/><circle cx="362.8" cy="411.3" r="0.75"/><circle cx="361.3" cy="410.6" r="0.75"/><circle cx="360.7" cy="409.6" r="0.75"/><circle cx="362.5" cy="408.5" r="0.75"/><circle cx="362.2" cy="413.5" r="0.75"/><circle cx="359.4" cy="412.1" r="0.75"/><circle cx="363.2" cy="409.6" r="0.75"/><circle cx="358.0" cy="413.4" r="0.75"/><circle cx="362.1" cy="411.4" r="0.75"/><circle cx="359.2" cy="415.0" r="0.75"/><circle cx="364.6" cy="408.7" r="0.75"/><circle cx="360.5" cy="410.8" r="0.75"/><circle cx="363.4" cy="408.4" r="0.75"/><circle cx="361.5" cy="410.0" r="0.75"/><circle cx="358.7" cy="413.7" r="0.75"/><circle cx="363.7" cy="409.3" r="0.75"/><circle cx="358.8" cy="413.8" r="0.75"/><circle cx="360.1" cy="412.1" r="0.75"/><circle cx="365.0" cy="410.2" r="0.75"/><circle cx="360.2" cy="415.1" r="0.75"/><circle cx="360.6" cy="412.5" r="0.75"/><circle cx="358.2" cy="412.8" r="0.75"/><circle cx="356.5" cy="416.8" r="0.75"/><circle cx="362.9" cy="407.9" r="0.75"/><circle cx="354.8" cy="412.7" r="0.75"/><circle cx="362.9" cy="409.1" r="0.75"/><circle cx="359.7" cy="411.5" r="0.75"/><circle cx="358.9" cy="410.7" r="0.75"/><circle cx="359.1" cy="410.1" r="0.75"/><circle cx="360.1" cy="412.2" r="0.75"/><circle cx="361.2" cy="410.6" r="0.75"/><circle cx="357.7" cy="413.5" r="0.75"/><circle cx="359.8" cy="414.3" r="0.75"/><circle cx="362.1" cy="410.2" r="0.75"/><circle cx="358.2" cy="411.8" r="0.75"/><circle cx="357.2" cy="413.0" r="0.75"/><circle cx="361.2" cy="411.7" r="0.75"/><circle cx="363.1" cy="412.9" r="0.75"/><circle cx="358.1" cy="413.0" r="0.75"/><circle cx="366.4" cy="404.6" r="0.75"/><circle cx="358.7" cy="412.8" r="0.75"/><circle cx="360.8" cy="411.9" r="0.75"/><circle cx="359.6" cy="412.5" r="0.75"/><circle cx="360.7" cy="412.4" r="0.75"/><circle cx="354.2" cy="414.2" r="0.75"/><circle cx="359.3" cy="410.6" r="0.75"/><circle cx="357.6" cy="414.3" r="0.75"/><circle cx="358.7" cy="413.6" r="0.75"/><circle cx="362.3" cy="410.7" r="0.75"/><circle cx="361.4" cy="410.7" r="0.75"/><circle cx="356.2" cy="414.2" r="0.75"/><circle cx="360.9" cy="410.3" r="0.75"/><circle cx="360.3" cy="412.7" r="0.75"/><circle cx="358.1" cy="414.0" r="0.75"/><circle cx="364.7" cy="407.7" r="0.75"/><circle cx="360.3" cy="411.3" r="0.75"/><circle cx="364.5" cy="409.2" r="0.75"/><circle cx="362.0" cy="409.3" r="0.75"/><circle cx="360.0" cy="411.7" r="0.75"/><circle cx="356.2" cy="416.5" r="0.75"/><circle cx="361.3" cy="408.2" r="0.75"/><circle cx="362.0" cy="410.2" r="0.75"/><circle cx="361.5" cy="411.3" r="0.75"/><circle cx="355.8" cy="414.2" r="0.75"/><circle cx="363.7" cy="408.4" r="0.75"/><circle cx="356.3" cy="412.1" r="0.75"/><circle cx="356.9" cy="414.3" r="0.75"/><circle cx="365.0" cy="409.1" r="0.75"/><circle cx="362.3" cy="413.7" r="0.75"/><circle cx="358.1" cy="411.9" r="0.75"/><circle cx="361.9" cy="411.3" r="0.75"/><circle cx="356.4" cy="412.3" r="0.75"/><circle cx="361.0" cy="411.4" r="0.75"/><circle cx="356.3" cy="413.9" r="0.75"/><circle cx="358.9" cy="413.2" r="0.75"/><circle cx="359.7" cy="411.8" r="0.75"/><circle cx="359.8" cy="413.5" r="0.75"/><circle cx="363.6" cy="408.8" r="0.75"/><circle cx="361.8" cy="409.4" r="0.75"/><circle cx="360.8" cy="412.4" r="0.75"/><circle cx="363.9" cy="408.5" r="0.75"/><circle cx="360.0" cy="412.1" r="0.75"/><circle cx="355.9" cy="414.4" r="0.75"/><circle cx="358.5" cy="413.3" r="0.75"/><circle cx="355.5" cy="411.6" r="0.75"/><circle cx="360.3" cy="411.9" r="0.75"/><circle cx="359.2" cy="413.7" r="0.75"/><circle cx="358.9" cy="411.5" r="0.75"/><circle cx="360.2" cy="409.1" r="0.75"/><circle cx="358.2" cy="412.9" r="0.75"/><circle cx="362.2" cy="410.0" r="0.75"/><circle cx="360.4" cy="410.4" r="0.75"/><circle cx="362.1" cy="413.0" r="0.75"/><circle cx="359.9" cy="415.5" r="0.75"/><circle cx="358.3" cy="412.9" r="0.75"/><circle cx="361.2" cy="412.5" r="0.75"/><circle cx="318.6" cy="441.9" r="0.75"/><circle cx="307.7" cy="446.7" r="0.75"/><circle cx="300.5" cy="453.7" r="0.75"/><circle cx="294.1" cy="455.9" r="0.75"/><circle cx="294.4" cy="450.6" r="0.75"/><circle cx="327.3" cy="438.8" r="0.75"/><circle cx="321.3" cy="445.8" r="0.75"/><circle cx="305.2" cy="448.8" r="0.75"/><circle cx="299.4" cy="457.6" r="0.75"/><circle cx="293.3" cy="454.6" r="0.75"/><circle cx="318.6" cy="438.0" r="0.75"/><circle cx="305.3" cy="451.0" r="0.75"/><circle cx="298.8" cy="455.7" r="0.75"/><circle cx="306.1" cy="448.4" r="0.75"/><circle cx="330.2" cy="438.5" r="0.75"/><circle cx="300.3" cy="457.9" r="0.75"/><circle cx="306.3" cy="450.8" r="0.75"/><circle cx="309.3" cy="440.9" r="0.75"/><circle cx="294.0" cy="453.2" r="0.75"/><circle cx="328.8" cy="434.1" r="0.75"/><circle cx="299.7" cy="448.0" r="0.75"/><circle cx="293.2" cy="461.9" r="0.75"/><circle cx="308.4" cy="448.9" r="0.75"/><circle cx="293.6" cy="451.4" r="0.75"/><circle cx="293.4" cy="463.3" r="0.75"/><circle cx="302.3" cy="453.6" r="0.75"/><circle cx="321.9" cy="440.4" r="0.75"/><circle cx="302.9" cy="448.7" r="0.75"/><circle cx="330.3" cy="430.7" r="0.75"/><circle cx="320.7" cy="437.2" r="0.75"/><circle cx="304.7" cy="449.2" r="0.75"/><circle cx="322.2" cy="438.1" r="0.75"/><circle cx="328.7" cy="428.5" r="0.75"/><circle cx="293.0" cy="451.2" r="0.75"/><circle cx="301.4" cy="443.5" r="0.75"/><circle cx="330.2" cy="433.9" r="0.75"/><circle cx="307.5" cy="447.4" r="0.75"/><circle cx="311.7" cy="448.1" r="0.75"/><circle cx="329.1" cy="435.7" r="0.75"/><circle cx="321.5" cy="443.5" r="0.75"/><circle cx="324.9" cy="436.7" r="0.75"/><circle cx="305.1" cy="444.7" r="0.75"/><circle cx="304.8" cy="445.6" r="0.75"/><circle cx="295.2" cy="459.7" r="0.75"/><circle cx="299.9" cy="452.4" r="0.75"/><circle cx="302.0" cy="441.0" r="0.75"/><circle cx="309.8" cy="436.8" r="0.75"/><circle cx="316.0" cy="434.2" r="0.75"/><circle cx="318.4" cy="433.0" r="0.75"/><circle cx="320.0" cy="435.0" r="0.75"/><circle cx="322.0" cy="434.0" r="0.75"/><circle cx="325.1" cy="440.2" r="0.75"/><circle cx="328.0" cy="440.2" r="0.75"/><circle cx="327.0" cy="448.6" r="0.75"/><circle cx="313.1" cy="454.4" r="0.75"/><circle cx="294.4" cy="465.1" r="0.75"/><circle cx="302.3" cy="468.0" r="0.75"/><circle cx="288.0" cy="461.0" r="0.75"/><circle cx="367.3" cy="406.5" r="0.75"/><circle cx="366.2" cy="407.0" r="0.75"/><circle cx="399.3" cy="386.9" r="0.75"/><circle cx="395.9" cy="391.9" r="0.75"/><circle cx="367.9" cy="407.9" r="0.75"/><circle cx="368.4" cy="403.7" r="0.75"/><circle cx="380.6" cy="399.8" r="0.75"/><circle cx="373.2" cy="401.5" r="0.75"/><circle cx="388.6" cy="396.4" r="0.75"/><circle cx="391.2" cy="395.1" r="0.75"/><circle cx="369.2" cy="404.1" r="0.75"/><circle cx="394.4" cy="389.9" r="0.75"/><circle cx="378.1" cy="404.7" r="0.75"/><circle cx="390.8" cy="393.8" r="0.75"/><circle cx="373.6" cy="406.2" r="0.75"/><circle cx="370.4" cy="409.0" r="0.75"/><circle cx="376.4" cy="400.3" r="0.75"/><circle cx="378.9" cy="404.0" r="0.75"/><circle cx="373.1" cy="404.6" r="0.75"/><circle cx="393.3" cy="387.0" r="0.75"/><circle cx="368.6" cy="401.1" r="0.75"/><circle cx="381.6" cy="401.2" r="0.75"/><circle cx="397.0" cy="384.6" r="0.75"/><circle cx="366.4" cy="408.7" r="0.75"/><circle cx="371.6" cy="406.9" r="0.75"/><circle cx="399.1" cy="382.6" r="0.75"/><circle cx="378.0" cy="398.5" r="0.75"/><circle cx="395.3" cy="388.3" r="0.75"/><circle cx="392.2" cy="392.9" r="0.75"/><circle cx="398.1" cy="391.2" r="0.75"/><circle cx="386.7" cy="398.0" r="0.75"/><circle cx="372.6" cy="404.0" r="0.75"/><circle cx="372.1" cy="406.4" r="0.75"/><circle cx="373.9" cy="401.1" r="0.75"/><circle cx="372.1" cy="403.1" r="0.75"/><circle cx="365.4" cy="407.9" r="0.75"/><circle cx="371.5" cy="409.2" r="0.75"/><circle cx="375.9" cy="404.2" r="0.75"/><circle cx="384.2" cy="401.9" r="0.75"/><circle cx="367.2" cy="410.6" r="0.75"/><circle cx="384.3" cy="399.0" r="0.75"/><circle cx="387.4" cy="396.7" r="0.75"/><circle cx="389.3" cy="395.0" r="0.75"/><circle cx="379.3" cy="400.2" r="0.75"/><circle cx="398.4" cy="390.4" r="0.75"/><circle cx="375.9" cy="400.6" r="0.75"/><circle cx="379.6" cy="399.5" r="0.75"/><circle cx="395.2" cy="392.7" r="0.75"/><circle cx="371.9" cy="405.4" r="0.75"/><circle cx="390.5" cy="393.5" r="0.75"/><circle cx="437.9" cy="362.7" r="0.75"/><circle cx="417.8" cy="376.2" r="0.75"/><circle cx="437.1" cy="361.6" r="0.75"/><circle cx="419.4" cy="374.7" r="0.75"/><circle cx="423.2" cy="372.3" r="0.75"/><circle cx="426.9" cy="370.2" r="0.75"/><circle cx="426.1" cy="369.8" r="0.75"/><circle cx="415.6" cy="376.2" r="0.75"/><circle cx="411.9" cy="379.4" r="0.75"/><circle cx="421.9" cy="373.6" r="0.75"/><circle cx="420.6" cy="373.4" r="0.75"/><circle cx="433.8" cy="366.1" r="0.75"/><circle cx="405.3" cy="383.5" r="0.75"/><circle cx="439.6" cy="363.1" r="0.75"/><circle cx="402.2" cy="385.4" r="0.75"/><circle cx="438.9" cy="359.4" r="0.75"/><circle cx="426.1" cy="372.3" r="0.75"/><circle cx="434.6" cy="366.0" r="0.75"/><circle cx="333.4" cy="412.2" r="0.75"/><circle cx="335.0" cy="413.2" r="0.75"/><circle cx="337.0" cy="412.7" r="0.75"/><circle cx="338.3" cy="416.0" r="0.75"/><circle cx="359.4" cy="430.8" r="0.75"/><circle cx="302.3" cy="468.0" r="0.75"/><circle cx="294.9" cy="465.0" r="0.75"/><circle cx="327.2" cy="449.0" r="0.75"/><circle cx="312.8" cy="454.4" r="0.75"/><circle cx="287.4" cy="460.6" r="0.75"/></g>
<line x1="287.6" y1="460.4" x2="441.4" y2="360.2" stroke="#444" stroke-width="0.8"/>
<path d="M257.9 347.7V494.9" fill="none" stroke="#A8A8A8" stroke-width="1.6"/>
<path d="M257.09999999999997 494.9H452.1" fill="none" stroke="#A8A8A8" stroke-width="1.5"/>
<line x1="256.4" y1="367.6" x2="257.9" y2="367.6" stroke="#A8A8A8" stroke-width="0.8"/>
<text x="256.2" y="371.0" font-size="9.4" text-anchor="end" fill="#222">10</text>
<line x1="256.4" y1="394.8" x2="257.9" y2="394.8" stroke="#A8A8A8" stroke-width="0.8"/>
<text x="256.2" y="398.2" font-size="9.4" text-anchor="end" fill="#222">5</text>
<line x1="256.4" y1="421.8" x2="257.9" y2="421.8" stroke="#A8A8A8" stroke-width="0.8"/>
<text x="256.2" y="425.2" font-size="9.4" text-anchor="end" fill="#222">0</text>
<line x1="256.4" y1="448.9" x2="257.9" y2="448.9" stroke="#A8A8A8" stroke-width="0.8"/>
<text x="256.2" y="452.3" font-size="9.4" text-anchor="end" fill="#222">-5</text>
<line x1="256.4" y1="476" x2="257.9" y2="476" stroke="#A8A8A8" stroke-width="0.8"/>
<text x="256.2" y="479.4" font-size="9.4" text-anchor="end" fill="#222">-10</text>
<line x1="266.7" y1="494.9" x2="266.7" y2="496.4" stroke="#A8A8A8" stroke-width="0.8"/>
<text x="266.7" y="502.8" font-size="9.5" text-anchor="middle" fill="#222">-10</text>
<line x1="307" y1="494.9" x2="307" y2="496.4" stroke="#A8A8A8" stroke-width="0.8"/>
<text x="307" y="502.8" font-size="9.5" text-anchor="middle" fill="#222">-5</text>
<line x1="346.8" y1="494.9" x2="346.8" y2="496.4" stroke="#A8A8A8" stroke-width="0.8"/>
<text x="346.8" y="502.8" font-size="9.5" text-anchor="middle" fill="#222">0</text>
<line x1="387" y1="494.9" x2="387" y2="496.4" stroke="#A8A8A8" stroke-width="0.8"/>
<text x="387" y="502.8" font-size="9.5" text-anchor="middle" fill="#222">5</text>
<line x1="427.3" y1="494.9" x2="427.3" y2="496.4" stroke="#A8A8A8" stroke-width="0.8"/>
<text x="427.3" y="502.8" font-size="9.5" text-anchor="middle" fill="#222">10</text>
<text x="354.2" y="512.4" font-size="9.4" text-anchor="middle" fill="#222">Log2(FC[rem1aHH103/WTHH103])</text>
<text x="241.0" y="421.0" font-size="9.4" text-anchor="middle" fill="#222" transform="rotate(-90 241.0 421.0)">Log2(FC[rem1anopL/WTHH103])</text>
<text x="303.5" y="359.4" font-size="10.1" fill="#222"><tspan font-style="italic">R</tspan> = 0.98</text>
<text x="303.5" y="370.0" font-size="10.1" fill="#222"><tspan font-style="italic">p</tspan> – value &lt; 2.2e-16</text>
<text x="464" y="7" font-size="9.5" font-weight="bold">e</text>
<text x="591" y="19.5" font-size="10" font-style="italic" text-anchor="middle" fill="#222">GmRINRK1</text>
<path d="M517.4 14.5V136.5H681" fill="none" stroke="#111" stroke-width="1.1"/>
<line x1="509.6" y1="136.5" x2="517.4" y2="136.5" stroke="#111" stroke-width="1"/>
<text x="507.2" y="140.2" font-size="10.2" text-anchor="end" fill="#222">0</text>
<line x1="509.6" y1="106.5" x2="517.4" y2="106.5" stroke="#111" stroke-width="1"/>
<text x="507.2" y="109.8" font-size="10.2" text-anchor="end" fill="#222">2</text>
<line x1="509.6" y1="75.5" x2="517.4" y2="75.5" stroke="#111" stroke-width="1"/>
<text x="507.2" y="79.2" font-size="10.2" text-anchor="end" fill="#222">4</text>
<line x1="509.6" y1="45.5" x2="517.4" y2="45.5" stroke="#111" stroke-width="1"/>
<text x="507.2" y="48.8" font-size="10.2" text-anchor="end" fill="#222">6</text>
<line x1="509.6" y1="14.5" x2="517.4" y2="14.5" stroke="#111" stroke-width="1"/>
<text x="507.2" y="18.2" font-size="10.2" text-anchor="end" fill="#222">8</text>
<line x1="557.3" y1="136.5" x2="557.3" y2="144.7" stroke="#111" stroke-width="1"/>
<text x="557.3" y="155.8" font-size="10" text-anchor="middle" fill="#222">DN50</text>
<line x1="640.2" y1="136.5" x2="640.2" y2="144.7" stroke="#111" stroke-width="1"/>
<text x="640.2" y="155.8" font-size="10" text-anchor="middle" font-style="italic" fill="#222">Gmrem1a</text>
<text x="482.9" y="77.5" font-size="9.9" text-anchor="middle" fill="#222" transform="rotate(-90 482.9 77.5)">Relative expression level</text>
<rect x="524.9" y="49.4" width="13.4" height="87.1" fill="#F03434" stroke="#111" stroke-width="1.1"/>
<path d="M531.6 49.4V42.0M528.4 42.0H534.8" stroke="#111" stroke-width="1"/>
<circle cx="529.4" cy="40.9" r="1.45" fill="none" stroke="#111" stroke-width="0.9"/>
<circle cx="533.7" cy="42.9" r="1.45" fill="none" stroke="#111" stroke-width="0.9"/>
<circle cx="531.6" cy="60.7" r="1.45" fill="none" stroke="#111" stroke-width="0.9"/>
<text x="531.6" y="33.4" font-size="9.6" text-anchor="middle" fill="#222">a</text>
<rect x="542.2" y="104.2" width="13.4" height="32.3" fill="#3FEE1C" stroke="#111" stroke-width="1.1"/>
<circle cx="545.4" cy="104.2" r="1.45" fill="none" stroke="#111" stroke-width="0.9"/>
<circle cx="548.9" cy="104.2" r="1.45" fill="none" stroke="#111" stroke-width="0.9"/>
<circle cx="552.4" cy="104.2" r="1.45" fill="none" stroke="#111" stroke-width="0.9"/>
<text x="548.9" y="94.7" font-size="9.6" text-anchor="middle" fill="#222">b</text>
<rect x="559.4" y="106.3" width="13.4" height="30.2" fill="#78FFC4" stroke="#111" stroke-width="1.1"/>
<path d="M566.1 106.3V101.9M562.9 101.9H569.3" stroke="#111" stroke-width="1"/>
<circle cx="566.1" cy="99.7" r="1.45" fill="none" stroke="#111" stroke-width="0.9"/>
<circle cx="566.1" cy="106.8" r="1.45" fill="none" stroke="#111" stroke-width="0.9"/>
<circle cx="566.1" cy="111.2" r="1.45" fill="none" stroke="#111" stroke-width="0.9"/>
<text x="566.1" y="94.7" font-size="9.6" text-anchor="middle" fill="#222">b</text>
<rect x="576.7" y="105.4" width="13.4" height="31.1" fill="#5B9CFF" stroke="#111" stroke-width="1.1"/>
<circle cx="581.6" cy="104.5" r="1.45" fill="none" stroke="#111" stroke-width="0.9"/>
<circle cx="584.9" cy="105.4" r="1.45" fill="none" stroke="#111" stroke-width="0.9"/>
<circle cx="586.4" cy="106.0" r="1.45" fill="none" stroke="#111" stroke-width="0.9"/>
<text x="583.4" y="94.7" font-size="9.6" text-anchor="middle" fill="#222">b</text>
<rect x="607.8" y="129.3" width="13.4" height="7.2" fill="#F03434" stroke="#111" stroke-width="1.1"/>
<circle cx="610.5" cy="129.3" r="1.45" fill="none" stroke="#111" stroke-width="0.9"/>
<circle cx="614.5" cy="129.3" r="1.45" fill="none" stroke="#111" stroke-width="0.9"/>
<circle cx="618.5" cy="129.3" r="1.45" fill="none" stroke="#111" stroke-width="0.9"/>
<text x="614.5" y="126.0" font-size="9.6" text-anchor="middle" fill="#222">c</text>
<rect x="625.0" y="133.3" width="13.4" height="3.2" fill="#3FEE1C" stroke="#111" stroke-width="1.1"/>
<circle cx="627.7" cy="133.3" r="1.45" fill="none" stroke="#111" stroke-width="0.9"/>
<circle cx="631.7" cy="133.3" r="1.45" fill="none" stroke="#111" stroke-width="0.9"/>
<circle cx="635.7" cy="133.3" r="1.45" fill="none" stroke="#111" stroke-width="0.9"/>
<text x="631.7" y="129.8" font-size="9.6" text-anchor="middle" fill="#222">c</text>
<rect x="642.2" y="133.3" width="13.4" height="3.2" fill="#78FFC4" stroke="#111" stroke-width="1.1"/>
<circle cx="644.9" cy="133.3" r="1.45" fill="none" stroke="#111" stroke-width="0.9"/>
<circle cx="648.9" cy="133.3" r="1.45" fill="none" stroke="#111" stroke-width="0.9"/>
<circle cx="652.9" cy="133.3" r="1.45" fill="none" stroke="#111" stroke-width="0.9"/>
<text x="648.9" y="129.8" font-size="9.6" text-anchor="middle" fill="#222">c</text>
<rect x="659.5" y="129.3" width="13.4" height="7.2" fill="#5B9CFF" stroke="#111" stroke-width="1.1"/>
<circle cx="662.2" cy="129.3" r="1.45" fill="none" stroke="#111" stroke-width="0.9"/>
<circle cx="666.2" cy="129.3" r="1.45" fill="none" stroke="#111" stroke-width="0.9"/>
<circle cx="670.2" cy="129.3" r="1.45" fill="none" stroke="#111" stroke-width="0.9"/>
<text x="666.2" y="126.0" font-size="9.6" text-anchor="middle" fill="#222">c</text>
<text x="464.8" y="165.9" font-size="9.5" font-weight="bold">f</text>
<text x="591" y="171" font-size="10" font-style="italic" text-anchor="middle" fill="#222">GmNINa</text>
<path d="M518.1999999999999 167.0V288.8H681" fill="none" stroke="#111" stroke-width="1.1"/>
<line x1="510.4" y1="288.5" x2="518.1999999999999" y2="288.5" stroke="#111" stroke-width="1"/>
<text x="508.0" y="292.6" font-size="10.2" text-anchor="end" fill="#222">0</text>
<line x1="510.4" y1="258.5" x2="518.1999999999999" y2="258.5" stroke="#111" stroke-width="1"/>
<text x="508.0" y="262.1" font-size="10.2" text-anchor="end" fill="#222">1</text>
<line x1="510.4" y1="227.5" x2="518.1999999999999" y2="227.5" stroke="#111" stroke-width="1"/>
<text x="508.0" y="231.7" font-size="10.2" text-anchor="end" fill="#222">2</text>
<line x1="510.4" y1="197.5" x2="518.1999999999999" y2="197.5" stroke="#111" stroke-width="1"/>
<text x="508.0" y="201.2" font-size="10.2" text-anchor="end" fill="#222">3</text>
<line x1="510.4" y1="167.5" x2="518.1999999999999" y2="167.5" stroke="#111" stroke-width="1"/>
<text x="508.0" y="170.8" font-size="10.2" text-anchor="end" fill="#222">4</text>
<line x1="558.0999999999999" y1="288.8" x2="558.0999999999999" y2="297.0" stroke="#111" stroke-width="1"/>
<text x="558.0999999999999" y="308.9" font-size="10" text-anchor="middle" fill="#222">DN50</text>
<line x1="641.0" y1="288.8" x2="641.0" y2="297.0" stroke="#111" stroke-width="1"/>
<text x="641.0" y="308.9" font-size="10" text-anchor="middle" font-style="italic" fill="#222">Gmrem1a</text>
<text x="483.0" y="230.0" font-size="9.9" text-anchor="middle" fill="#222" transform="rotate(-90 483.0 230.0)">Relative expression level</text>
<rect x="525.6999999999999" y="211.2" width="13.4" height="77.6" fill="#F03434" stroke="#111" stroke-width="1.1"/>
<path d="M532.4 211.2V200.8M529.2 200.8H535.6" stroke="#111" stroke-width="1"/>
<circle cx="532.4" cy="195.9" r="1.1" fill="#111" stroke="#111" stroke-width="0.8"/>
<circle cx="532.4" cy="207.2" r="1.1" fill="#111" stroke="#111" stroke-width="0.8"/>
<circle cx="532.4" cy="230.0" r="1.1" fill="#111" stroke="#111" stroke-width="0.8"/>
<text x="532.4" y="193.0" font-size="9.6" text-anchor="middle" fill="#222">a</text>
<rect x="543.0" y="236.7" width="13.4" height="52.1" fill="#3FEE1C" stroke="#111" stroke-width="1.1"/>
<circle cx="547.7" cy="236.4" r="1.1" fill="#111" stroke="#111" stroke-width="0.8"/>
<circle cx="549.7" cy="234.6" r="1.1" fill="#111" stroke="#111" stroke-width="0.8"/>
<circle cx="551.7" cy="236.4" r="1.1" fill="#111" stroke="#111" stroke-width="0.8"/>
<text x="549.7" y="228.7" font-size="9.6" text-anchor="middle" fill="#222">c</text>
<rect x="560.1999999999999" y="254.7" width="13.4" height="34.1" fill="#78FFC4" stroke="#111" stroke-width="1.1"/>
<path d="M566.9 254.7V249.5M563.7 249.5H570.1" stroke="#111" stroke-width="1"/>
<circle cx="566.9" cy="247.4" r="1.1" fill="#111" stroke="#111" stroke-width="0.8"/>
<circle cx="566.9" cy="252.3" r="1.1" fill="#111" stroke="#111" stroke-width="0.8"/>
<circle cx="566.9" cy="262.3" r="1.1" fill="#111" stroke="#111" stroke-width="0.8"/>
<text x="566.9" y="244.5" font-size="9.6" text-anchor="middle" fill="#222">c</text>
<rect x="577.5" y="255.3" width="13.4" height="33.5" fill="#5B9CFF" stroke="#111" stroke-width="1.1"/>
<path d="M584.2 255.3V252.6M581.0 252.6H587.4" stroke="#111" stroke-width="1"/>
<circle cx="584.2" cy="252.3" r="1.1" fill="#111" stroke="#111" stroke-width="0.8"/>
<circle cx="582.0" cy="257.1" r="1.1" fill="#111" stroke="#111" stroke-width="0.8"/>
<circle cx="586.4" cy="257.1" r="1.1" fill="#111" stroke="#111" stroke-width="0.8"/>
<text x="584.2" y="247.5" font-size="9.6" text-anchor="middle" fill="#222">c</text>
<rect x="608.5999999999999" y="195.3" width="13.4" height="93.5" fill="#F03434" stroke="#111" stroke-width="1.1"/>
<circle cx="612.8" cy="194.4" r="1.1" fill="#111" stroke="#111" stroke-width="0.8"/>
<circle cx="615.3" cy="195.3" r="1.1" fill="#111" stroke="#111" stroke-width="0.8"/>
<circle cx="617.8" cy="195.9" r="1.1" fill="#111" stroke="#111" stroke-width="0.8"/>
<text x="615.3" y="187.6" font-size="9.6" text-anchor="middle" fill="#222">a</text>
<rect x="625.8" y="213.0" width="13.4" height="75.8" fill="#3FEE1C" stroke="#111" stroke-width="1.1"/>
<path d="M632.5 213.0V209.0M629.3 209.0H635.7" stroke="#111" stroke-width="1"/>
<circle cx="632.5" cy="204.5" r="1.1" fill="#111" stroke="#111" stroke-width="0.8"/>
<circle cx="630.5" cy="215.7" r="1.1" fill="#111" stroke="#111" stroke-width="0.8"/>
<circle cx="634.5" cy="215.7" r="1.1" fill="#111" stroke="#111" stroke-width="0.8"/>
<text x="632.5" y="202.2" font-size="9.6" text-anchor="middle" fill="#222">b</text>
<rect x="643.0" y="254.1" width="13.4" height="34.7" fill="#78FFC4" stroke="#111" stroke-width="1.1"/>
<circle cx="647.2" cy="254.1" r="1.1" fill="#111" stroke="#111" stroke-width="0.8"/>
<circle cx="649.7" cy="253.8" r="1.1" fill="#111" stroke="#111" stroke-width="0.8"/>
<circle cx="652.2" cy="254.1" r="1.1" fill="#111" stroke="#111" stroke-width="0.8"/>
<text x="649.7" y="248.2" font-size="9.6" text-anchor="middle" fill="#222">c</text>
<rect x="660.3" y="243.4" width="13.4" height="45.4" fill="#5B9CFF" stroke="#111" stroke-width="1.1"/>
<circle cx="664.5" cy="243.1" r="1.1" fill="#111" stroke="#111" stroke-width="0.8"/>
<circle cx="667.0" cy="242.8" r="1.1" fill="#111" stroke="#111" stroke-width="0.8"/>
<circle cx="669.5" cy="243.1" r="1.1" fill="#111" stroke="#111" stroke-width="0.8"/>
<text x="667.0" y="238.4" font-size="9.6" text-anchor="middle" fill="#222">c</text>
<text x="464" y="308.5" font-size="9.5" font-weight="bold">g</text>
<text x="591" y="332" font-size="10" font-style="italic" text-anchor="middle" fill="#222">GmNFR5</text>
<path d="M518.3 331.5V453.0H681" fill="none" stroke="#111" stroke-width="1.1"/>
<line x1="510.5" y1="453.5" x2="518.3" y2="453.5" stroke="#111" stroke-width="1"/>
<text x="508.1" y="456.8" font-size="10.2" text-anchor="end" fill="#222">0</text>
<line x1="510.5" y1="412.5" x2="518.3" y2="412.5" stroke="#111" stroke-width="1"/>
<text x="508.1" y="416.2" font-size="10.2" text-anchor="end" fill="#222">5</text>
<line x1="510.5" y1="372.5" x2="518.3" y2="372.5" stroke="#111" stroke-width="1"/>
<text x="508.1" y="375.8" font-size="10.2" text-anchor="end" fill="#222">10</text>
<line x1="510.5" y1="331.5" x2="518.3" y2="331.5" stroke="#111" stroke-width="1"/>
<text x="508.1" y="335.2" font-size="10.2" text-anchor="end" fill="#222">15</text>
<line x1="558.1999999999999" y1="453.0" x2="558.1999999999999" y2="461.2" stroke="#111" stroke-width="1"/>
<text x="558.1999999999999" y="473.1" font-size="10" text-anchor="middle" fill="#222">DN50</text>
<line x1="641.1" y1="453.0" x2="641.1" y2="461.2" stroke="#111" stroke-width="1"/>
<text x="641.1" y="473.1" font-size="10" text-anchor="middle" font-style="italic" fill="#222">Gmrem1a</text>
<text x="495.9" y="394.5" font-size="9.9" text-anchor="middle" fill="#222" transform="rotate(-90 495.9 394.5)">Relative expression level</text>
<rect x="525.8" y="448.1" width="13.4" height="4.9" fill="#F03434" stroke="#111" stroke-width="1.1"/>
<circle cx="528.5" cy="447.7" r="1.3" fill="none" stroke="#111" stroke-width="1.0"/>
<circle cx="532.5" cy="447.7" r="1.3" fill="none" stroke="#111" stroke-width="1.0"/>
<circle cx="536.5" cy="447.7" r="1.3" fill="none" stroke="#111" stroke-width="1.0"/>
<text x="532.5" y="442.8" font-size="9.6" text-anchor="middle" fill="#222">e</text>
<rect x="543.1" y="444.9" width="13.4" height="8.1" fill="#3FEE1C" stroke="#111" stroke-width="1.1"/>
<circle cx="545.8" cy="444.7" r="1.3" fill="none" stroke="#111" stroke-width="1.0"/>
<circle cx="549.8" cy="444.7" r="1.3" fill="none" stroke="#111" stroke-width="1.0"/>
<circle cx="553.8" cy="444.7" r="1.3" fill="none" stroke="#111" stroke-width="1.0"/>
<text x="549.8" y="439.2" font-size="9.6" text-anchor="middle" fill="#222">e</text>
<rect x="560.3" y="448.9" width="13.4" height="4.1" fill="#78FFC4" stroke="#111" stroke-width="1.1"/>
<circle cx="563.0" cy="448.5" r="1.3" fill="none" stroke="#111" stroke-width="1.0"/>
<circle cx="567.0" cy="448.5" r="1.3" fill="none" stroke="#111" stroke-width="1.0"/>
<circle cx="571.0" cy="448.5" r="1.3" fill="none" stroke="#111" stroke-width="1.0"/>
<text x="567.0" y="444.9" font-size="9.6" text-anchor="middle" fill="#222">e</text>
<rect x="577.6" y="447.0" width="13.4" height="6.0" fill="#5B9CFF" stroke="#111" stroke-width="1.1"/>
<circle cx="580.3" cy="446.7" r="1.3" fill="none" stroke="#111" stroke-width="1.0"/>
<circle cx="584.3" cy="446.7" r="1.3" fill="none" stroke="#111" stroke-width="1.0"/>
<circle cx="588.3" cy="446.7" r="1.3" fill="none" stroke="#111" stroke-width="1.0"/>
<text x="584.3" y="442.4" font-size="9.6" text-anchor="middle" fill="#222">e</text>
<rect x="608.6999999999999" y="413.2" width="13.4" height="39.8" fill="#F03434" stroke="#111" stroke-width="1.1"/>
<circle cx="613.9" cy="411.7" r="1.3" fill="none" stroke="#111" stroke-width="1.0"/>
<circle cx="616.9" cy="413.3" r="1.3" fill="none" stroke="#111" stroke-width="1.0"/>
<circle cx="615.4" cy="414.9" r="1.3" fill="none" stroke="#111" stroke-width="1.0"/>
<text x="615.4" y="406.0" font-size="9.6" text-anchor="middle" fill="#222">d</text>
<rect x="625.9" y="373.6" width="13.4" height="79.4" fill="#3FEE1C" stroke="#111" stroke-width="1.1"/>
<circle cx="630.6" cy="373.2" r="1.3" fill="none" stroke="#111" stroke-width="1.0"/>
<circle cx="633.6" cy="373.6" r="1.3" fill="none" stroke="#111" stroke-width="1.0"/>
<circle cx="635.1" cy="374.0" r="1.3" fill="none" stroke="#111" stroke-width="1.0"/>
<text x="632.6" y="366.3" font-size="9.6" text-anchor="middle" fill="#222">a</text>
<rect x="643.1" y="379.5" width="13.4" height="73.5" fill="#78FFC4" stroke="#111" stroke-width="1.1"/>
<circle cx="648.3" cy="380.1" r="1.3" fill="none" stroke="#111" stroke-width="1.0"/>
<circle cx="651.3" cy="378.9" r="1.3" fill="none" stroke="#111" stroke-width="1.0"/>
<circle cx="649.8" cy="377.7" r="1.3" fill="none" stroke="#111" stroke-width="1.0"/>
<text x="649.8" y="371.1" font-size="9.6" text-anchor="middle" fill="#222">b</text>
<rect x="660.4" y="404.4" width="13.4" height="48.6" fill="#5B9CFF" stroke="#111" stroke-width="1.1"/>
<circle cx="665.6" cy="404.0" r="1.3" fill="none" stroke="#111" stroke-width="1.0"/>
<circle cx="668.6" cy="404.4" r="1.3" fill="none" stroke="#111" stroke-width="1.0"/>
<circle cx="667.1" cy="403.6" r="1.3" fill="none" stroke="#111" stroke-width="1.0"/>
<text x="667.1" y="398.3" font-size="9.6" text-anchor="middle" fill="#222">c</text>
<rect x="510" y="484.2" width="21.8" height="6.2" fill="#F03434" stroke="#111" stroke-width="1"/>
<text x="541.6" y="491.4" font-size="10" fill="#222">HH103</text>
<rect x="599.7" y="484.2" width="21.8" height="6.2" fill="#3FEE1C" stroke="#111" stroke-width="1"/>
<text x="631.0" y="491.4" font-size="10" font-style="italic" fill="#222">nodA</text>
<rect x="510" y="500.9" width="21.8" height="6.2" fill="#78FFC4" stroke="#111" stroke-width="1"/>
<text x="541.6" y="508.1" font-size="10" font-style="italic" fill="#222">nopL</text>
<rect x="599.7" y="500.9" width="21.8" height="6.2" fill="#5B9CFF" stroke="#111" stroke-width="1"/>
<text x="631.0" y="508.1" font-size="10" font-style="italic" fill="#222">nodAΩnopL</text>
</svg></body></html>
